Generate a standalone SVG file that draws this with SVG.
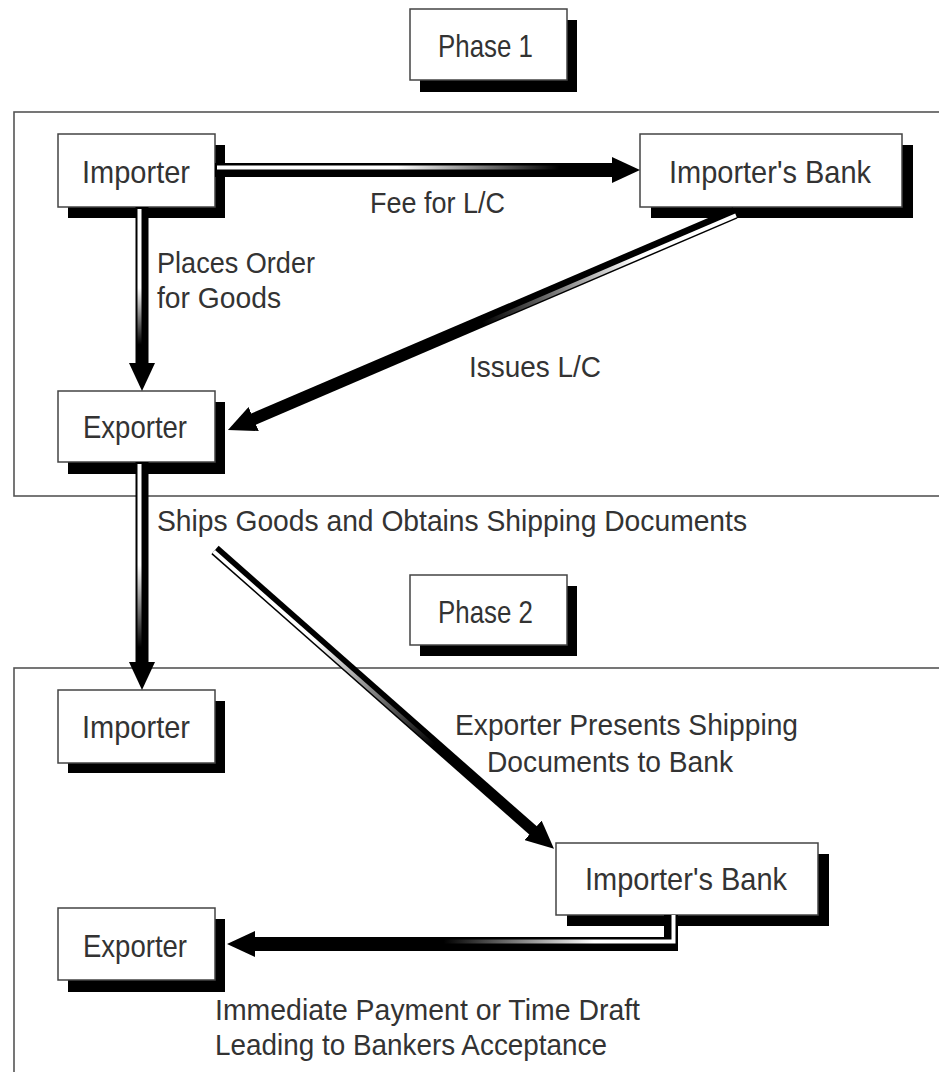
<svg xmlns="http://www.w3.org/2000/svg" width="939" height="1072" viewBox="0 0 939 1072">
<style>
.frame{fill:none;stroke:#555;stroke-width:1.6}
.box{fill:#fff;stroke:#444;stroke-width:1.5}
.shadow{fill:#000}
.t{font-family:"Liberation Sans",Arial,sans-serif;font-size:32px;fill:#333}
.lbl{font-family:"Liberation Sans",Arial,sans-serif;font-size:30px;fill:#333}
.shaft{fill:none;stroke:#000;stroke-linecap:butt;stroke-linejoin:miter}
.stripe{fill:none;stroke-width:4;stroke-linecap:butt}
</style>
<defs>
<marker id="head" markerUnits="userSpaceOnUse" markerWidth="28" markerHeight="26" viewBox="0 0 28 26" refX="4" refY="13" orient="auto">
<path d="M0,0 L28,13 L0,26 Z" fill="#000"/>
</marker>
<linearGradient id="g1" gradientUnits="userSpaceOnUse" x1="215" y1="0" x2="620" y2="0">
<stop offset="0" stop-color="#fff"/><stop offset="0.45" stop-color="#fff"/><stop offset="0.85" stop-color="#000"/>
</linearGradient>
<linearGradient id="g2" gradientUnits="userSpaceOnUse" x1="0" y1="207" x2="0" y2="369">
<stop offset="0" stop-color="#fff"/><stop offset="0.5" stop-color="#fff"/><stop offset="0.85" stop-color="#000"/>
</linearGradient>
<linearGradient id="g3" gradientUnits="userSpaceOnUse" x1="735" y1="213" x2="228" y2="430">
<stop offset="0" stop-color="#fff"/><stop offset="0.2" stop-color="#fff"/><stop offset="0.5" stop-color="#000"/>
</linearGradient>
<linearGradient id="g4" gradientUnits="userSpaceOnUse" x1="0" y1="462" x2="0" y2="668">
<stop offset="0" stop-color="#fff"/><stop offset="0.5" stop-color="#fff"/><stop offset="0.9" stop-color="#000"/>
</linearGradient>
<linearGradient id="g5" gradientUnits="userSpaceOnUse" x1="215" y1="550" x2="554" y2="849">
<stop offset="0" stop-color="#fff"/><stop offset="0.3" stop-color="#fff"/><stop offset="0.65" stop-color="#000"/>
</linearGradient>
<linearGradient id="g6" gradientUnits="userSpaceOnUse" x1="680" y1="0" x2="250" y2="0">
<stop offset="0" stop-color="#fff"/><stop offset="0.2" stop-color="#fff"/><stop offset="0.55" stop-color="#000"/>
</linearGradient>
</defs>

<g id="frames">
<rect class="frame" x="14" y="112" width="960" height="384"/>
<rect class="frame" x="14" y="668" width="960" height="420"/>
</g>

<g id="phase1">
<rect class="shadow" x="420" y="20" width="157" height="72"/>
<rect class="box" x="410" y="9" width="157" height="71"/>
<text class="t" x="438" y="57" textLength="95" lengthAdjust="spacingAndGlyphs">Phase 1</text>
</g>

<g id="phase2">
<rect class="shadow" x="420" y="586" width="157" height="70"/>
<rect class="box" x="410" y="575" width="157" height="70"/>
<text class="t" x="438" y="623" textLength="95" lengthAdjust="spacingAndGlyphs">Phase 2</text>
</g>

<g id="importer1">
<rect class="shadow" x="68" y="145" width="157" height="73"/>
<rect class="box" x="58" y="134" width="157" height="73"/>
<text class="t" x="82" y="183" textLength="108" lengthAdjust="spacingAndGlyphs">Importer</text>
</g>

<g id="bank1">
<rect class="shadow" x="651" y="145" width="262" height="73"/>
<rect class="box" x="640" y="134" width="262" height="73"/>
<text class="t" x="669" y="183" textLength="202" lengthAdjust="spacingAndGlyphs">Importer's Bank</text>
</g>

<g id="exporter1">
<rect class="shadow" x="68" y="402" width="157" height="72"/>
<rect class="box" x="58" y="391" width="157" height="71"/>
<text class="t" x="83" y="438" textLength="104" lengthAdjust="spacingAndGlyphs">Exporter</text>
</g>

<g id="importer2">
<rect class="shadow" x="68" y="701" width="157" height="72"/>
<rect class="box" x="58" y="690" width="157" height="73"/>
<text class="t" x="82" y="738" textLength="108" lengthAdjust="spacingAndGlyphs">Importer</text>
</g>

<g id="bank2">
<rect class="shadow" x="567" y="854" width="262" height="72"/>
<rect class="box" x="556" y="843" width="262" height="72"/>
<text class="t" x="585" y="890" textLength="202" lengthAdjust="spacingAndGlyphs">Importer's Bank</text>
</g>

<g id="exporter2">
<rect class="shadow" x="68" y="919" width="157" height="73"/>
<rect class="box" x="58" y="908" width="157" height="72"/>
<text class="t" x="83" y="957" textLength="104" lengthAdjust="spacingAndGlyphs">Exporter</text>
</g>

<g id="connectors">
<line class="shaft" x1="215" y1="170" x2="616" y2="170" stroke-width="14" marker-end="url(#head)"/>
<line class="stripe" x1="217" y1="167.5" x2="600" y2="167.5" stroke="url(#g1)"/>

<line class="shaft" x1="142" y1="207" x2="142" y2="367" stroke-width="13" marker-end="url(#head)"/>
<line class="stripe" x1="139.5" y1="209" x2="139.5" y2="355" stroke="url(#g2)"/>

<line class="shaft" x1="735" y1="213" x2="250" y2="420.6" stroke-width="12" marker-end="url(#head)"/>
<line class="stripe" x1="736" y1="215.3" x2="432" y2="345.5" stroke="url(#g3)"/>

<line class="shaft" x1="142" y1="462" x2="142" y2="666" stroke-width="13" marker-end="url(#head)"/>
<line class="stripe" x1="139.5" y1="464" x2="139.5" y2="655" stroke="url(#g4)"/>

<line class="shaft" x1="215" y1="550" x2="536" y2="833" stroke-width="11" stroke-linecap="round" marker-end="url(#head)"/>
<line class="stripe" x1="213.7" y1="551.5" x2="451" y2="760.8" stroke="url(#g5)" stroke-width="3.5" stroke-linecap="round"/>

<path class="shaft" d="M671,915 V944 H251" stroke-width="14" marker-end="url(#head)"/>
<path class="stripe" d="M673.5,915 V941.5 H330" stroke="url(#g6)"/>
</g>

<g id="labels">
<text class="lbl" x="370" y="213" textLength="135" lengthAdjust="spacingAndGlyphs">Fee for L/C</text>
<text class="lbl" x="157" y="273" textLength="158" lengthAdjust="spacingAndGlyphs">Places Order</text>
<text class="lbl" x="157" y="308" textLength="124" lengthAdjust="spacingAndGlyphs">for Goods</text>
<text class="lbl" x="469" y="377" textLength="132" lengthAdjust="spacingAndGlyphs">Issues L/C</text>
<text class="lbl" x="157" y="531" textLength="590" lengthAdjust="spacingAndGlyphs">Ships Goods and Obtains Shipping Documents</text>
<text class="lbl" x="455" y="735" textLength="343" lengthAdjust="spacingAndGlyphs">Exporter Presents Shipping</text>
<text class="lbl" x="487" y="772" textLength="246" lengthAdjust="spacingAndGlyphs">Documents to Bank</text>
<text class="lbl" x="215" y="1020" textLength="425" lengthAdjust="spacingAndGlyphs">Immediate Payment or Time Draft</text>
<text class="lbl" x="215" y="1055" textLength="392" lengthAdjust="spacingAndGlyphs">Leading to Bankers Acceptance</text>
</g>
</svg>
